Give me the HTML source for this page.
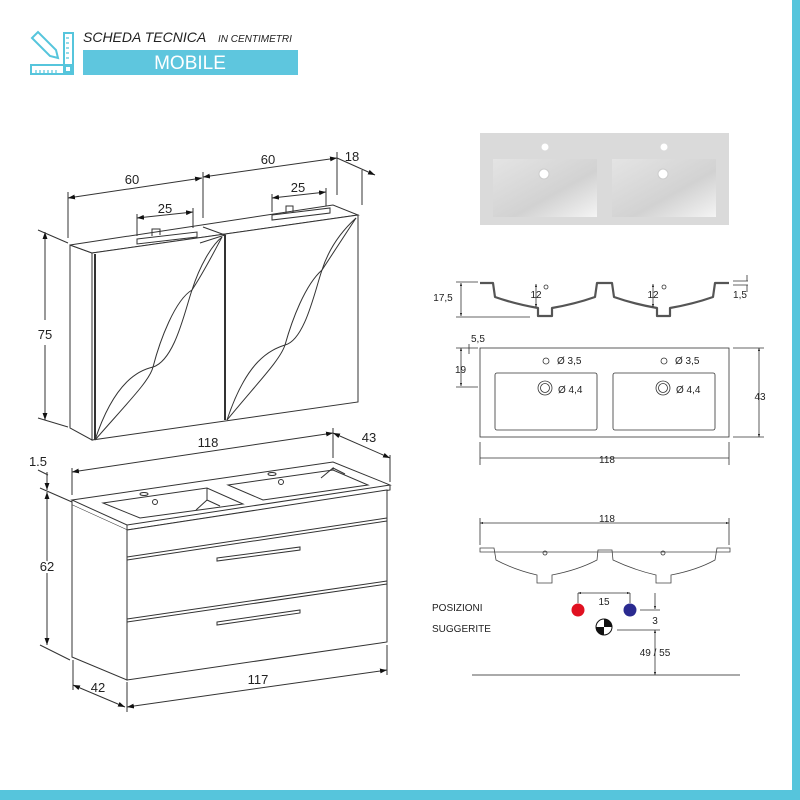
<!DOCTYPE html>
<html><head><meta charset="utf-8"><style>
html,body{margin:0;padding:0;background:#fff;}
svg{display:block;}
text{font-family:"Liberation Sans",Arial,sans-serif;fill:#222;}
</style></head><body>
<svg width="800" height="800" viewBox="0 0 800 800" xmlns="http://www.w3.org/2000/svg">
<defs>
<marker id="a" viewBox="0 0 10 10" refX="10" refY="5" markerWidth="7" markerHeight="7" orient="auto-start-reverse"><path d="M0,1.5 L10,5 L0,8.5z" fill="#111"/></marker>
<marker id="s" viewBox="0 0 10 10" refX="10" refY="5" markerWidth="4" markerHeight="4" orient="auto-start-reverse"><path d="M0,1.5 L10,5 L0,8.5z" fill="#111"/></marker>
<linearGradient id="bg" x1="0" y1="0" x2="1" y2="1"><stop offset="0" stop-color="#e4e4e4"/><stop offset="0.6" stop-color="#d2d2d2"/><stop offset="1" stop-color="#f4f4f4"/></linearGradient>
</defs>
<!-- frame bars -->
<rect x="0" y="790" width="800" height="10" fill="#56c5dc"/>
<rect x="792" y="0" width="8" height="800" fill="#56c5dc"/>
<!-- header icon -->
<g fill="none" stroke="#56c5dc" stroke-width="2">
<rect x="31" y="65" width="42" height="9"/>
<rect x="64" y="33" width="9" height="41"/>
<rect x="65" y="66" width="6" height="6"/>
<path d="M33,37 L38,32 L56,50 L58,58 L50,56 L32,38z"/>
<path d="M36,70 v3 M40,70 v3 M44,70 v3 M48,70 v3 M52,70 v3 M56,70 v3 M66,38 h3 M66,43 h3 M66,48 h3 M66,53 h3 M66,58 h3" stroke-width="1.2"/>
</g>
<text x="83" y="42" font-size="14" font-style="italic">SCHEDA TECNICA</text>
<text x="218" y="42" font-size="10" font-style="italic">IN CENTIMETRI</text>
<rect x="83" y="50" width="215" height="25" fill="#5ec6de"/>
<text x="190" y="69" font-size="19" text-anchor="middle" style="fill:#fff">MOBILE</text>

<g stroke="#333" stroke-width="1" fill="none">
<!-- mirror cabinet -->
<path d="M70,245 L92,253 L92,440 L70,428 Z" fill="#fff"/>
<path d="M70,245 L333,205 L358,215 L92,253 Z" fill="#fff"/>
<path d="M92,253 L358,215 L358,402 L92,440 Z" fill="#fff"/>
<path d="M95,254 L95,440" stroke-width="2"/>
<path d="M225,235 L225,420" stroke-width="2"/>
<path d="M200,243 L225,235 L203,227"/>
<!-- waves -->
<path d="M95,440 C115,380 140,370 153,367 C175,360 185,310 192,290 C200,265 212,245 222,237"/>
<path d="M95,440 C130,400 150,380 153,367 C160,340 175,300 192,290 C205,270 215,250 222,237"/>
<path d="M227,420 C247,360 270,350 285,345 C305,340 315,290 322,270 C330,245 345,228 356,218"/>
<path d="M227,420 C260,380 280,360 285,345 C292,320 305,285 322,270 C335,250 348,230 356,218"/>
<!-- lamps -->
<path d="M137,239 L197,232 L197,237 L137,244Z" fill="#fff"/>
<path d="M152,236 L152,229 L160,229 L160,235"/>
<path d="M272,215 L330,208 L330,213 L272,220Z" fill="#fff"/>
<path d="M286,213 L286,206 L293,206 L293,212"/>
<!-- mirror dims -->
<path d="M68,198 L202,178" marker-start="url(#a)" marker-end="url(#a)"/>
<path d="M203,177 L337,158" marker-start="url(#a)" marker-end="url(#a)"/>
<path d="M337,158 L375,175" marker-end="url(#a)"/>
<path d="M68,192 V238 M203,172 V218 M337,152 V195 M362,170 V205"/>
<path d="M137,218 L193,212" marker-start="url(#a)" marker-end="url(#a)"/>
<path d="M137,214 V236 M193,208 V228"/>
<path d="M272,198 L326,192" marker-start="url(#a)" marker-end="url(#a)"/>
<path d="M272,194 V212 M326,188 V206"/>
<path d="M45,232 V320 M45,345 V420" />
<path d="M45,232 V420" marker-start="url(#a)" marker-end="url(#a)" stroke-opacity="0"/>
<path d="M38,230 L68,243 M38,418 L68,427"/>
<!-- vanity -->
<path d="M72,500 L333,462 L390,485 L127,525 Z" fill="#fff"/>
<path d="M72,500 L72,505 L127,530 L390,490 L390,485 M127,525 L127,530"/>
<path d="M72,505 L72,657 L127,680 L127,530" fill="#fff"/>
<path d="M127,530 L387,490 L387,642 L127,680 Z" fill="#fff"/>
<path d="M127,557 L387,518 M127,560 L387,521 M127,619 L387,581 M127,622 L387,584"/>
<path d="M217,558 L300,547 L300,550 L217,561Z M217,622 L300,610 L300,613 L217,625Z"/>
<path d="M103,503 L207,488 L243,504 L140,518Z M228,485 L333,470 L368,485 L263,500Z"/>
<path d="M196,510 L207,500 L207,488 M207,500 L220,506 M321,478 L333,468 L333,470 M333,468 L345,474"/>
<ellipse cx="144" cy="494" rx="4" ry="1.5"/><circle cx="155" cy="502" r="2.5"/>
<ellipse cx="272" cy="474" rx="4" ry="1.5"/><circle cx="281" cy="482" r="2.5"/>
<!-- vanity dims -->
<path d="M72,472 L333,433" marker-start="url(#a)" marker-end="url(#a)"/>
<path d="M333,433 L390,458" marker-start="url(#a)" marker-end="url(#a)"/>
<path d="M72,468 V495 M333,428 V458 M390,455 V482"/>
<path d="M127,707 L387,670" marker-start="url(#a)" marker-end="url(#a)"/>
<path d="M73,685 L125,707" marker-start="url(#a)" marker-end="url(#a)"/>
<path d="M73,660 V690 M127,682 V712 M387,645 V675"/>
<path d="M47,492 V645" marker-start="url(#a)" marker-end="url(#a)"/>
<path d="M47,472 V490" marker-end="url(#a)"/>
<path d="M40,488 L72,502 M40,645 L70,660 M38,470 L48,475"/>
</g>
<text x="132" y="184" font-size="13" text-anchor="middle">60</text>
<text x="268" y="164" font-size="13" text-anchor="middle">60</text>
<text x="352" y="161" font-size="13" text-anchor="middle">18</text>
<text x="165" y="213" font-size="13" text-anchor="middle">25</text>
<text x="298" y="192" font-size="13" text-anchor="middle">25</text>
<text x="45" y="339" font-size="13" text-anchor="middle">75</text>
<text x="208" y="447" font-size="13" text-anchor="middle">118</text>
<text x="369" y="442" font-size="13" text-anchor="middle">43</text>
<text x="38" y="466" font-size="13" text-anchor="middle">1.5</text>
<text x="47" y="571" font-size="13" text-anchor="middle" style="paint-order:stroke;stroke:#fff;stroke-width:4">62</text>
<text x="258" y="684" font-size="13" text-anchor="middle">117</text>
<text x="98" y="692" font-size="13" text-anchor="middle">42</text>

<!-- basin photo -->
<rect x="480" y="133" width="249" height="92" fill="#dadada"/>
<rect x="493" y="159" width="104" height="58" fill="url(#bg)"/>
<rect x="612" y="159" width="104" height="58" fill="url(#bg)"/>
<circle cx="545" cy="147" r="3.5" fill="#fff"/><circle cx="664" cy="147" r="3.5" fill="#fff"/>
<circle cx="544" cy="174" r="5" fill="#fff" stroke="#ccc"/><circle cx="663" cy="174" r="5" fill="#fff" stroke="#ccc"/>

<!-- section view -->
<g fill="none" stroke="#555" stroke-width="2.2" stroke-linejoin="round">
<path d="M480,283 H493 L495,297 Q515,304 538,308 V316 H552 V308 Q575,304 595,297 L597,283 H612 L614,297 Q634,304 657,308 V316 H670 V308 Q693,304 713,297 L715,283 H729"/>
</g>
<g stroke="#333" stroke-width="0.8" fill="none">
<path d="M461,283 V316" marker-start="url(#s)" marker-end="url(#s)"/>
<path d="M456,282 H478 M456,317 H530"/>
<path d="M536,284 V307" marker-start="url(#s)" marker-end="url(#s)"/>
<path d="M653,284 V307" marker-start="url(#s)" marker-end="url(#s)"/>
<circle cx="546" cy="287" r="2"/><circle cx="664" cy="287" r="2"/>
<path d="M733,281 H748 M733,285 H748 M747,275 V281 M747,285 V292" />
<!-- plan view -->
<rect x="480" y="348" width="249" height="89"/>
<rect x="495" y="373" width="102" height="57" rx="2"/>
<rect x="613" y="373" width="102" height="57" rx="2"/>
<circle cx="546" cy="361" r="3"/><circle cx="664" cy="361" r="3"/>
<circle cx="545" cy="388" r="7"/><circle cx="545" cy="388" r="4.5"/>
<circle cx="663" cy="388" r="7"/><circle cx="663" cy="388" r="4.5"/>
<path d="M759,348 V437" marker-start="url(#s)" marker-end="url(#s)"/>
<path d="M733,348 H764 M733,437 H764"/>
<path d="M461,348 V386" marker-start="url(#s)" marker-end="url(#s)"/>
<path d="M456,348 H478 M456,387 H478 M469,344 V354"/>
<path d="M480,442 V465 M729,442 V465 M480,458 H729"/>
<!-- bottom -->
<path d="M480,523 H729" marker-start="url(#s)" marker-end="url(#s)"/>
<path d="M480,518 V545 M729,518 V545"/>
<path d="M480,548 H494 L496,560 Q515,570 537,575 V583 H552 V575 Q578,570 597,560 L598,550 H612 L613,560 Q634,570 656,575 V583 H671 V575 Q697,570 715,560 L717,548 H730 V552 H480Z" stroke="#444"/>
<circle cx="545" cy="553" r="2"/><circle cx="663" cy="553" r="2"/>
<path d="M578,593 H630" marker-start="url(#s)" marker-end="url(#s)"/>
<path d="M578,593 V603 M630,593 V603"/>
<path d="M655,593 V609" marker-end="url(#s)"/>
<path d="M655,630 V675" marker-start="url(#s)" marker-end="url(#s)"/>
<path d="M640,610 H660 M617,630 H660"/>
<path d="M472,675 H740" stroke="#555" stroke-width="1"/>
</g>
<circle cx="578" cy="610" r="6.5" fill="#e01020"/>
<circle cx="630" cy="610" r="6.5" fill="#2a2a90"/>
<circle cx="604" cy="627" r="8" fill="#fff" stroke="#111"/>
<path d="M604,627 V619 A8,8 0 0 1 612,627Z M604,627 V635 A8,8 0 0 1 596,627Z" fill="#111"/>
<g font-size="10">
<text x="443" y="301" text-anchor="middle">17,5</text>
<text x="536" y="298" text-anchor="middle">12</text>
<text x="653" y="298" text-anchor="middle">12</text>
<text x="740" y="298" text-anchor="middle">1,5</text>
<text x="471" y="342">5,5</text>
<text x="455" y="373">19</text>
<text x="557" y="364">Ø 3,5</text>
<text x="675" y="364">Ø 3,5</text>
<text x="558" y="393">Ø 4,4</text>
<text x="676" y="393">Ø 4,4</text>
<text x="760" y="400" text-anchor="middle">43</text>
<text x="607" y="463" text-anchor="middle">118</text>
<text x="607" y="522" text-anchor="middle">118</text>
<text x="604" y="605" text-anchor="middle">15</text>
<text x="655" y="624" text-anchor="middle">3</text>
<text x="655" y="656" text-anchor="middle">49 / 55</text>
<text x="432" y="611">POSIZIONI</text>
<text x="432" y="632">SUGGERITE</text>
</g>
</svg>
</body></html>
